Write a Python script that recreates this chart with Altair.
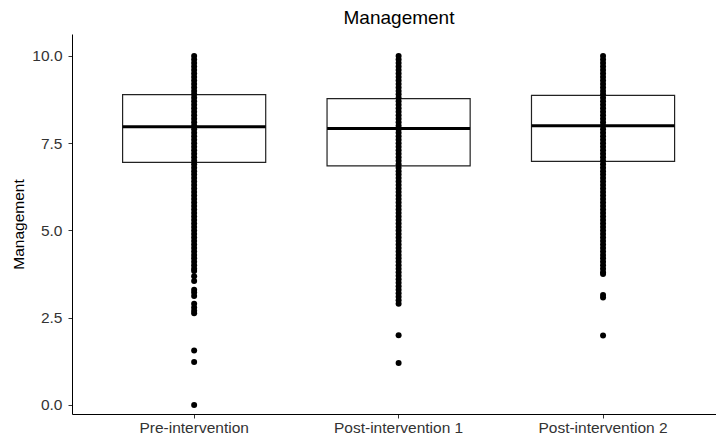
import altair as alt
import pandas as pd

groups = ["Pre-intervention", "Post-intervention 1", "Post-intervention 2"]
q1 = [6.95, 6.85, 6.98]
medians = [7.97, 7.92, 8.00]
q3 = [8.89, 8.78, 8.87]
whisker_lo = [4.05, 3.95, 4.05]
whisker_hi = [10.0, 10.0, 10.0]

pre_points = [10.0, 9.9, 9.8, 9.7, 9.6, 9.5, 9.4, 9.3, 9.2, 9.1, 9.0,
              8.9, 8.8, 8.7, 8.6, 8.5, 8.4, 8.3, 8.2, 8.1, 8.0,
              7.9, 7.8, 7.7, 7.6, 7.5, 7.4, 7.3, 7.2, 7.1, 7.0,
              6.9, 6.8, 6.7, 6.6, 6.5, 6.4, 6.3, 6.2, 6.1, 6.0,
              5.9, 5.8, 5.7, 5.6, 5.5, 5.4, 5.3, 5.2, 5.1, 5.0,
              4.9, 4.8, 4.7, 4.6, 4.5, 4.4, 4.3, 4.2, 4.1, 4.0,
              3.9, 3.84, 3.69, 3.55, 3.3, 3.22, 3.12, 2.9, 2.79, 2.7, 2.63,
              1.56, 1.23, 0.0]
post1_points = [10.0, 9.9, 9.8, 9.7, 9.6, 9.5, 9.4, 9.3, 9.2, 9.1, 9.0,
                8.9, 8.8, 8.7, 8.6, 8.5, 8.4, 8.3, 8.2, 8.1, 8.0,
                7.9, 7.8, 7.7, 7.6, 7.5, 7.4, 7.3, 7.2, 7.1, 7.0,
                6.9, 6.8, 6.7, 6.6, 6.5, 6.4, 6.3, 6.2, 6.1, 6.0,
                5.9, 5.8, 5.7, 5.6, 5.5, 5.4, 5.3, 5.2, 5.1, 5.0,
                4.9, 4.8, 4.7, 4.6, 4.5, 4.4, 4.3, 4.2, 4.1, 4.0,
                3.9, 3.8, 3.7, 3.6, 3.5, 3.4, 3.3, 3.2, 3.1, 3.0, 2.9,
                2.0, 1.2]
post2_points = [10.0, 9.9, 9.8, 9.7, 9.6, 9.5, 9.4, 9.3, 9.2, 9.1, 9.0,
                8.9, 8.8, 8.7, 8.6, 8.5, 8.4, 8.3, 8.2, 8.1, 8.0,
                7.9, 7.8, 7.7, 7.6, 7.5, 7.4, 7.3, 7.2, 7.1, 7.0,
                6.9, 6.8, 6.7, 6.6, 6.5, 6.4, 6.3, 6.2, 6.1, 6.0,
                5.9, 5.8, 5.7, 5.6, 5.5, 5.4, 5.3, 5.2, 5.1, 5.0,
                4.9, 4.8, 4.7, 4.6, 4.5, 4.4, 4.3, 4.2, 4.1, 4.0,
                3.9, 3.8, 3.75, 3.15, 3.08, 1.99]

FONT = "Liberation Sans"

box_df = pd.DataFrame({"group": groups, "q1": q1, "median": medians, "q3": q3,
                       "lo": whisker_lo, "hi": whisker_hi})
pts_df = pd.DataFrame(
    [{"group": groups[0], "value": v} for v in pre_points]
    + [{"group": groups[1], "value": v} for v in post1_points]
    + [{"group": groups[2], "value": v} for v in post2_points]
)

xscale = alt.Scale(type="band", domain=groups, paddingInner=0.3, paddingOuter=0.225,
                   align=0.55)
yscale = alt.Scale(domain=[-0.26, 10.63], nice=False, zero=False)

xaxis = alt.Axis(labelAngle=0, labelFontSize=15.5, labelColor="#333333", labelFont=FONT,
                 domainColor="black", tickColor="#333333", tickSize=4, labelPadding=2,
                 grid=False)
yaxis = alt.Axis(values=[0, 2.5, 5, 7.5, 10], format=".1f", labelFontSize=15.5,
                 labelColor="#333333", labelFont=FONT, domainColor="black",
                 tickColor="#333333", tickSize=4, labelPadding=6, grid=False,
                 title="Management", titleFont=FONT, titleFontSize=15.5,
                 titleFontWeight="normal", titleColor="black", titlePadding=5)

base_x = alt.X("group:N", scale=xscale, sort=groups, axis=xaxis, title=None)

whiskers = alt.Chart(box_df).mark_rule(color="#222222", strokeWidth=1).encode(
    x=base_x,
    y=alt.Y("lo:Q", scale=yscale, axis=yaxis),
    y2="hi:Q",
)

box = alt.Chart(box_df).mark_bar(fill="white", stroke="#222222", strokeWidth=1.2).encode(
    x=base_x,
    y=alt.Y("q1:Q", scale=yscale, axis=yaxis),
    y2="q3:Q",
)

median = alt.Chart(box_df).mark_tick(color="black", thickness=3, size=143, opacity=1).encode(
    x=base_x,
    y=alt.Y("median:Q", scale=yscale, axis=yaxis),
)

points = alt.Chart(pts_df).mark_circle(size=36, color="black", opacity=1).encode(
    x=base_x,
    y=alt.Y("value:Q", scale=yscale, axis=yaxis),
)

chart = alt.layer(whiskers, box, median, points).properties(
    width=644,
    height=380,
    autosize="none",
    background="white",
    padding={"left": 64, "top": 26, "right": 0, "bottom": 25},
    title=alt.TitleParams("Management", fontSize=19, fontWeight="normal", font=FONT,
                          color="black", anchor="middle", offset=6, dx=5),
).configure_view(strokeWidth=0)

chart.save("out.html", embed_options={"renderer": "svg", "actions": False})
